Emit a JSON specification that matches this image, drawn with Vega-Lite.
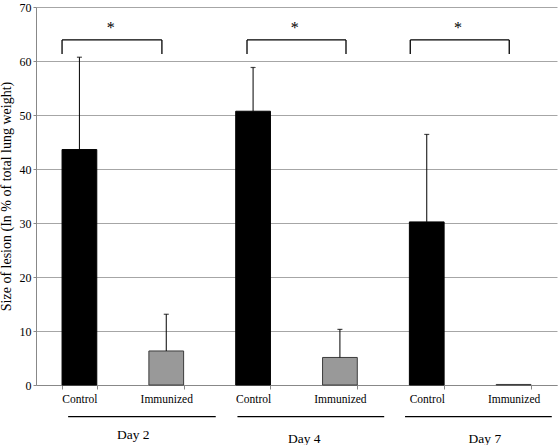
{
  "$schema": "https://vega.github.io/schema/vega-lite/v6.json",
  "autosize": {"type": "none"},
  "width": 521,
  "height": 378,
  "padding": {"left": 36, "top": 7, "right": 3, "bottom": 60},
  "background": "white",
  "config": {
    "font": "Liberation Serif, Times New Roman, DejaVu Serif, serif",
    "view": {"stroke": null},
    "text": {"font": "Liberation Serif, Times New Roman, DejaVu Serif, serif", "color": "#000"},
    "axis": {"labelFont": "Liberation Serif, Times New Roman, DejaVu Serif, serif", "titleFont": "Liberation Serif, Times New Roman, DejaVu Serif, serif", "labelColor": "#000", "titleColor": "#000"}
  },
  "datasets": {
    "bars": [
      {"key": "Day 2|Control", "group": "Control", "value": 43.6, "upper": 60.7},
      {"key": "Day 2|Immunized", "group": "Immunized", "value": 6.3, "upper": 13.1},
      {"key": "Day 4|Control", "group": "Control", "value": 50.7, "upper": 58.8},
      {"key": "Day 4|Immunized", "group": "Immunized", "value": 5.1, "upper": 10.3},
      {"key": "Day 7|Control", "group": "Control", "value": 30.2, "upper": 46.4},
      {"key": "Day 7|Immunized", "group": "Immunized", "value": 0.1, "upper": null}
    ],
    "annot": [
      {"day": "Day 2", "bl": 0.3, "br": 1.45, "star": 0.86, "ul": 0.37, "ur": 2.07, "lx": 1.12, "ly": -9.3, "level": 63.9, "foot": 61.3, "starY": 66.7, "lineY": -5.87},
      {"day": "Day 4", "bl": 2.43, "br": 3.57, "star": 2.98, "ul": 2.32, "ur": 4.01, "lx": 3.09, "ly": -10.0, "level": 63.9, "foot": 61.3, "starY": 66.7, "lineY": -5.87},
      {"day": "Day 7", "bl": 4.31, "br": 5.45, "star": 4.86, "ul": 4.25, "ur": 5.94, "lx": 5.17, "ly": -10.0, "level": 63.9, "foot": 61.3, "starY": 66.7, "lineY": -5.87}
    ]
  },
  "resolve": {"scale": {"x": "independent"}, "axis": {"x": "independent", "y": "independent"}},
  "layer": [
    {
      "data": {"name": "bars"},
      "encoding": {
        "x": {
          "field": "key", "type": "nominal", "sort": null,
          "scale": {"domain": ["Day 2|Control", "Day 2|Immunized", "Day 4|Control", "Day 4|Immunized", "Day 7|Control", "Day 7|Immunized"], "paddingInner": 0.6, "paddingOuter": 0.3},
          "axis": {"title": null, "labelAngle": 0, "labelExpr": "split(datum.value, '|')[1]", "labelFontSize": 11.5, "tickBand": "extent", "tickSize": 4, "tickColor": "#888", "domainColor": "#888", "labelPadding": 4}
        }
      },
      "layer": [
        {
          "mark": {"type": "bar", "strokeWidth": 1},
          "encoding": {
            "y": {
              "field": "value", "type": "quantitative",
              "scale": {"domain": [0, 70], "nice": false},
              "axis": {"title": "Size of lesion (In % of total lung weight)", "titleFontSize": 14, "titleFontWeight": "normal", "titlePadding": 6, "labelFontSize": 12, "values": [0, 10, 20, 30, 40, 50, 60, 70], "tickSize": 3, "tickColor": "#888", "domainColor": "#888", "gridColor": "#a6a6a6", "labelPadding": 2}
            },
            "fill": {"field": "group", "type": "nominal", "scale": {"domain": ["Control", "Immunized"], "range": ["#000000", "#999999"]}, "legend": null},
            "stroke": {"field": "group", "type": "nominal", "scale": {"domain": ["Control", "Immunized"], "range": ["#000000", "#3c3c3c"]}, "legend": null}
          }
        },
        {
          "mark": {"type": "rule", "color": "#000", "strokeWidth": 1},
          "transform": [{"filter": "datum.upper != null"}],
          "encoding": {"y": {"field": "value", "type": "quantitative"}, "y2": {"field": "upper"}}
        },
        {
          "mark": {"type": "tick", "color": "#000", "size": 5, "thickness": 1.2, "orient": "horizontal"},
          "transform": [{"filter": "datum.upper != null"}],
          "encoding": {"y": {"field": "upper", "type": "quantitative"}}
        }
      ]
    },
    {
      "data": {"name": "annot"},
      "layer": [
        {
          "mark": {"type": "rule", "color": "#000", "strokeWidth": 1.3},
          "encoding": {
            "x": {"field": "bl", "type": "quantitative", "scale": {"domain": [0, 6], "nice": false}, "axis": null},
            "x2": {"field": "br"},
            "y": {"field": "level", "type": "quantitative", "axis": null}
          }
        },
        {
          "mark": {"type": "rule", "color": "#000", "strokeWidth": 1.3},
          "encoding": {
            "x": {"field": "bl", "type": "quantitative", "axis": null},
            "y": {"field": "foot", "type": "quantitative", "axis": null},
            "y2": {"field": "level"}
          }
        },
        {
          "mark": {"type": "rule", "color": "#000", "strokeWidth": 1.3},
          "encoding": {
            "x": {"field": "br", "type": "quantitative", "axis": null},
            "y": {"field": "foot", "type": "quantitative", "axis": null},
            "y2": {"field": "level"}
          }
        },
        {
          "mark": {"type": "text", "fontSize": 16, "baseline": "middle", "dy": 3, "color": "#000"},
          "encoding": {
            "x": {"field": "star", "type": "quantitative", "axis": null},
            "y": {"field": "starY", "type": "quantitative", "axis": null},
            "text": {"value": "*"}
          }
        },
        {
          "mark": {"type": "rule", "color": "#000", "strokeWidth": 1.2},
          "encoding": {
            "x": {"field": "ul", "type": "quantitative", "axis": null},
            "x2": {"field": "ur"},
            "y": {"field": "lineY", "type": "quantitative", "axis": null}
          }
        },
        {
          "mark": {"type": "text", "fontSize": 13.5, "baseline": "middle", "color": "#000"},
          "encoding": {
            "x": {"field": "lx", "type": "quantitative", "axis": null},
            "y": {"field": "ly", "type": "quantitative", "axis": null},
            "text": {"field": "day"}
          }
        }
      ]
    }
  ]
}
